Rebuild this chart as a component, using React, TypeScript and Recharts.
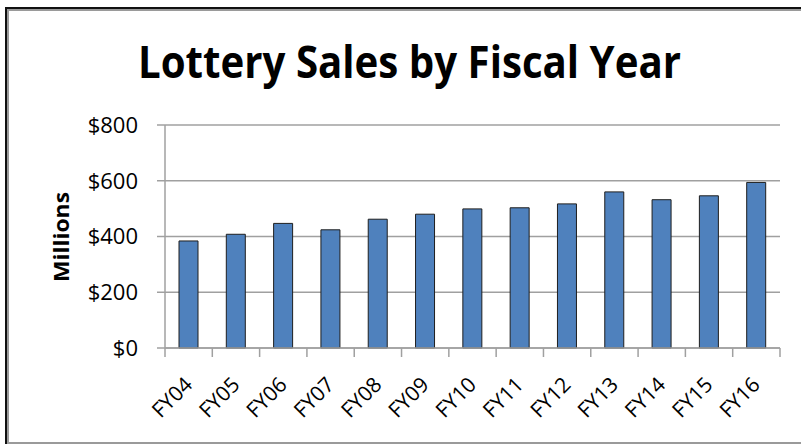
import { BarChart, Bar, XAxis, YAxis, CartesianGrid } from 'recharts';

const fiscalYears = ['FY04', 'FY05', 'FY06', 'FY07', 'FY08', 'FY09', 'FY10', 'FY11', 'FY12', 'FY13', 'FY14', 'FY15', 'FY16'];
const salesMillions = [384, 408, 447, 424, 462, 480, 499, 503, 517, 560, 532, 546, 594];
const yTicks = [0, 200, 400, 600, 800];

const data = fiscalYears.map((fy, i) => ({ fy, sales: salesMillions[i] }));

const CHART_W = 801;
const CHART_H = 444;
const PLOT_LEFT = 165;
const PLOT_RIGHT = 780;
const BAND = (PLOT_RIGHT - PLOT_LEFT) / fiscalYears.length;

const FONT = '"Open Sans", Arial, sans-serif';

// Excel-style category tick: tick marks sit between categories, labels at -45deg
function CategoryTick(props: any) {
    const { x, y, payload, index } = props;
    const isLast = index === fiscalYears.length - 1;
    return (
        <g>
            <line x1={x - BAND / 2} y1={y} x2={x - BAND / 2} y2={y + 9} stroke="#a0a0a0" strokeWidth={1.5} />
            {isLast && (
                <line x1={x + BAND / 2} y1={y} x2={x + BAND / 2} y2={y + 9} stroke="#a0a0a0" strokeWidth={1.5} />
            )}
            <text
                transform={`translate(${x + 5},${y + 38}) rotate(-45)`}
                textAnchor="end"
                fontFamily={FONT}
                fontSize={21}
                fill="#000"
            >
                {payload.value}
            </text>
        </g>
    );
}

export default function App() {
    return (
        <div style={{ position: 'absolute', left: 0, top: 0, width: CHART_W, height: CHART_H, background: '#fff' }}>
            {/* frame */}
            <div style={{ position: 'absolute', left: 5, top: 7, width: CHART_W - 5, height: 2, background: '#111' }} />
            <div style={{ position: 'absolute', left: 5, top: 7, width: 2, height: CHART_H - 7, background: '#111' }} />
            <div style={{ position: 'absolute', left: 7, top: 9, width: CHART_W - 7, height: 1.5, background: '#9a9a9a' }} />
            <div style={{ position: 'absolute', left: 7, top: 9, width: 1.5, height: CHART_H - 9, background: '#9a9a9a' }} />
            <div style={{ position: 'absolute', left: 7, top: 442, width: CHART_W - 7, height: 1.5, background: '#9a9a9a' }} />

            <svg style={{ position: 'absolute', left: 0, top: 0 }} width={CHART_W} height={CHART_H}>
                <text
                    x={409.5}
                    y={78}
                    textAnchor="middle"
                    fontFamily={FONT}
                    fontWeight={700}
                    fontSize={44}
                    textLength={543}
                    lengthAdjust="spacingAndGlyphs"
                    fill="#000"
                >
                    Lottery Sales by Fiscal Year
                </text>
                <text
                    transform="translate(69,237) rotate(-90)"
                    textAnchor="middle"
                    fontFamily={FONT}
                    fontWeight={700}
                    fontSize={22}
                    textLength={90}
                    lengthAdjust="spacingAndGlyphs"
                    fill="#000"
                >
                    Millions
                </text>
            </svg>

            <div style={{ position: 'absolute', left: 0, top: 0 }}>
                <BarChart
                    width={CHART_W}
                    height={CHART_H}
                    data={data}
                    margin={{ top: 125, right: CHART_W - PLOT_RIGHT, bottom: 6, left: 0 }}
                    barSize={19}
                >
                    <CartesianGrid horizontal vertical={false} stroke="#a0a0a0" strokeWidth={1.5} />
                    <XAxis
                        dataKey="fy"
                        height={90}
                        interval={0}
                        axisLine={{ stroke: '#a0a0a0', strokeWidth: 1.5 }}
                        tickLine={false}
                        tickSize={0}
                        tickMargin={0}
                        tick={<CategoryTick />}
                    />
                    <YAxis
                        width={PLOT_LEFT}
                        domain={[0, 800]}
                        ticks={yTicks}
                        interval={0}
                        tickFormatter={(v: number) => `$${v}`}
                        axisLine={{ stroke: '#a0a0a0', strokeWidth: 1.5 }}
                        tickLine={{ stroke: '#a0a0a0', strokeWidth: 1.5 }}
                        tickSize={8}
                        tickMargin={19}
                        tick={{ fontFamily: FONT, fontSize: 22, fill: '#000' }}
                    />
                    <Bar dataKey="sales" fill="#4f81bd" stroke="#1e1e1e" strokeWidth={1} isAnimationActive={false} />
                </BarChart>
            </div>
        </div>
    );
}
